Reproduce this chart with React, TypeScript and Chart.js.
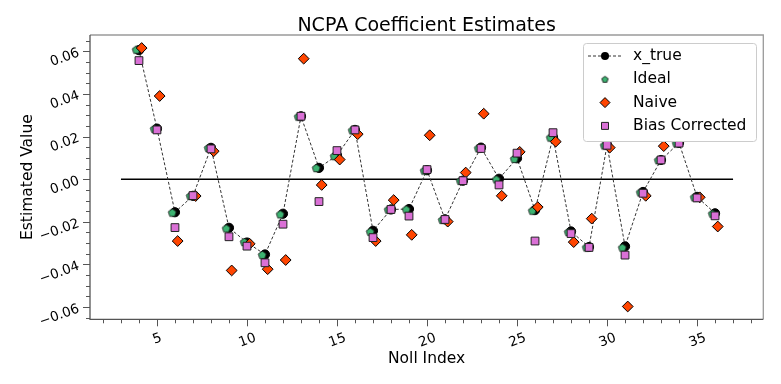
import React, { useEffect, useRef } from "react";
import { Chart, registerables } from "chart.js";

Chart.register(...registerables);

// ---------------- data ----------------
const NOLL = [4, 5, 6, 7, 8, 9, 10, 11, 12, 13, 14, 15, 16, 17, 18, 19, 20, 21, 22, 23, 24, 25, 26, 27, 28, 29, 30, 31, 32, 33, 34, 35, 36];

const X_TRUE = [0.0605, 0.0237, -0.0155, -0.0078, 0.0147, -0.0228, -0.0297, -0.0353, -0.0162, 0.0295, 0.0053, 0.0112, 0.0231, -0.0242, -0.0142, -0.014, 0.0042, -0.0188, -0.0007, 0.0148, 0.0002, 0.0098, -0.0145, 0.0197, -0.0245, -0.0318, 0.016, -0.0315, -0.006, 0.009, 0.017, -0.0083, -0.016];

const IDEAL = [0.0607, 0.0236, -0.0157, -0.0079, 0.0146, -0.0231, -0.0295, -0.0355, -0.0165, 0.0293, 0.0052, 0.0108, 0.0229, -0.0247, -0.0143, -0.0142, 0.004, -0.0191, -0.0008, 0.0145, -0.0001, 0.0095, -0.0148, 0.0195, -0.0248, -0.032, 0.0158, -0.0321, -0.0062, 0.0089, 0.0168, -0.0085, -0.0162];

const NAIVE = [0.0615, 0.039, -0.029, -0.0079, 0.0131, -0.0428, -0.0303, -0.0422, -0.0379, 0.0565, -0.0027, 0.0092, 0.0211, -0.029, -0.0098, -0.0261, 0.0206, -0.0199, 0.0031, 0.0307, -0.0078, 0.0128, -0.0131, 0.0176, -0.0295, -0.0185, 0.0148, -0.0597, -0.0078, 0.0155, 0.024, -0.0085, -0.0222];

const BIAS_CORRECTED = [0.0556, 0.0231, -0.0227, -0.0077, 0.0142, -0.027, -0.0314, -0.0392, -0.0211, 0.0295, -0.0105, 0.0134, 0.0231, -0.0274, -0.0142, -0.0173, 0.0045, -0.0189, -0.0007, 0.0144, -0.0027, 0.0122, -0.029, 0.0218, -0.0255, -0.032, 0.0159, -0.0356, -0.0066, 0.009, 0.0169, -0.0088, -0.0172];

const ZERO_LINE_X = [3, 37];
const ZERO_LINE_Y = [0, 0];

const X_TICKS = [5, 10, 15, 20, 25, 30, 35];
const X_TICK_LABELS = ["5", "10", "15", "20", "25", "30", "35"];
const Y_TICKS = [-0.06, -0.04, -0.02, 0, 0.02, 0.04, 0.06];
const Y_TICK_LABELS = ["\u22120.06", "\u22120.04", "\u22120.02", "0.00", "0.02", "0.04", "0.06"];

const TITLE = "NCPA Coefficient Estimates";
const X_LABEL = "Noll Index";
const Y_LABEL = "Estimated Value";
const LEGEND_LABELS = ["x_true", "Ideal", "Naive", "Bias Corrected"];

// ---------------- styling ----------------
const FONT = '"DejaVu Sans", "Liberation Sans", sans-serif';
const C_TRUE = "#000000";
const C_IDEAL = "#3CB371";
const C_NAIVE = "#FF4500";
const C_BIAS = "#DA70D6";
const IDEAL_DX = -0.15;
const NAIVE_DX = 0.15;
const TICK_FONT_PX = 13.5;

function makePentagon(r: number, fill: string, stroke: string, lw: number) {
  const size = Math.ceil(2 * r + 2 * lw + 2);
  const c = document.createElement("canvas");
  c.width = size;
  c.height = size;
  const g = c.getContext("2d")!;
  const cx = size / 2;
  const cy = size / 2 + 0.3;
  g.beginPath();
  for (let i = 0; i < 5; i++) {
    const a = -Math.PI / 2 + (i * 2 * Math.PI) / 5;
    const px = cx + r * Math.cos(a);
    const py = cy + r * Math.sin(a);
    if (i === 0) g.moveTo(px, py);
    else g.lineTo(px, py);
  }
  g.closePath();
  g.fillStyle = fill;
  g.fill();
  g.lineWidth = lw;
  g.strokeStyle = stroke;
  g.stroke();
  return c;
}

const mplAxes = {
  id: "mplAxes",
  afterDraw(chart: any) {
    const { ctx, chartArea: a, scales } = chart;
    const xs = scales.x;
    const ys = scales.y;
    ctx.save();

    // spines
    ctx.lineWidth = 1.3;
    ctx.strokeStyle = "#9a9a9a";
    ctx.beginPath();
    ctx.moveTo(a.left, a.top);
    ctx.lineTo(a.right, a.top);
    ctx.lineTo(a.right, a.bottom);
    ctx.stroke();
    ctx.strokeStyle = "#555555";
    ctx.beginPath();
    ctx.moveTo(a.left, a.top);
    ctx.lineTo(a.left, a.bottom);
    ctx.lineTo(a.right, a.bottom);
    ctx.stroke();

    // ticks
    ctx.lineWidth = 1;
    ctx.strokeStyle = "#555555";
    ctx.beginPath();
    for (let k = -13; k <= 13; k++) {
      const v = k * 0.005;
      if (v < ys.min || v > ys.max) continue;
      const py = Math.round(ys.getPixelForValue(v)) + 0.5;
      const len = k % 4 === 0 ? 7 : 4;
      ctx.moveTo(a.left, py);
      ctx.lineTo(a.left - len, py);
    }
    for (let n = Math.ceil(xs.min); n <= xs.max; n++) {
      const px = Math.round(xs.getPixelForValue(n)) + 0.5;
      const len = n % 5 === 0 ? 7 : 4;
      ctx.moveTo(px, a.bottom);
      ctx.lineTo(px, a.bottom + len);
    }
    ctx.stroke();

    // tick labels
    ctx.fillStyle = "#000";
    ctx.font = `${TICK_FONT_PX}px ${FONT}`;
    const rot = (-20 * Math.PI) / 180;
    const capHalf = TICK_FONT_PX * 0.364;
    Y_TICKS.forEach((v, i) => {
      const py = ys.getPixelForValue(v);
      ctx.save();
      ctx.translate(a.left - 11.5, py);
      ctx.rotate(rot);
      ctx.textAlign = "right";
      ctx.textBaseline = "alphabetic";
      ctx.fillText(Y_TICK_LABELS[i], 0, capHalf);
      ctx.restore();
    });
    X_TICKS.forEach((v, i) => {
      const px = xs.getPixelForValue(v);
      const w = ctx.measureText(X_TICK_LABELS[i]).width;
      ctx.save();
      ctx.translate(px, a.bottom + 17 + 0.171 * w);
      ctx.rotate(rot);
      ctx.textAlign = "center";
      ctx.textBaseline = "alphabetic";
      ctx.fillText(X_TICK_LABELS[i], 0, capHalf);
      ctx.restore();
    });

    // axis titles
    ctx.font = `15.5px ${FONT}`;
    ctx.textAlign = "center";
    ctx.textBaseline = "alphabetic";
    ctx.fillText(X_LABEL, (a.left + a.right) / 2, 362.5);
    ctx.save();
    ctx.translate(32, (a.top + a.bottom) / 2);
    ctx.rotate(-Math.PI / 2);
    ctx.fillText(Y_LABEL, 0, 0);
    ctx.restore();

    // title
    ctx.font = `19px ${FONT}`;
    ctx.fillText(TITLE, (a.left + a.right) / 2, 31);

    // legend
    const lx = 583, ly = 43, lw = 173, lh = 98;
    ctx.beginPath();
    if ((ctx as any).roundRect) (ctx as any).roundRect(lx + 0.5, ly + 0.5, lw, lh, 3);
    else ctx.rect(lx + 0.5, ly + 0.5, lw, lh);
    ctx.fillStyle = "#ffffff";
    ctx.fill();
    ctx.strokeStyle = "#cccccc";
    ctx.lineWidth = 1;
    ctx.stroke();

    const mx = 605;
    const rows = [56, 79.3, 102.6, 125.9];
    ctx.save();
    ctx.strokeStyle = "#333333";
    ctx.lineWidth = 1;
    ctx.setLineDash([3, 2]);
    ctx.beginPath();
    ctx.moveTo(588, rows[0]);
    ctx.lineTo(621, rows[0]);
    ctx.stroke();
    ctx.restore();
    ctx.beginPath();
    ctx.arc(mx, rows[0], 4, 0, Math.PI * 2);
    ctx.fillStyle = C_TRUE;
    ctx.fill();
    const pent = makePentagon(3.3, C_IDEAL, "#000", 0.8);
    ctx.drawImage(pent, mx - pent.width / 2, rows[1] - pent.height / 2);
    ctx.beginPath();
    ctx.moveTo(mx - 5, rows[2]);
    ctx.lineTo(mx, rows[2] - 5);
    ctx.lineTo(mx + 5, rows[2]);
    ctx.lineTo(mx, rows[2] + 5);
    ctx.closePath();
    ctx.fillStyle = C_NAIVE;
    ctx.fill();
    ctx.strokeStyle = "#000";
    ctx.lineWidth = 1;
    ctx.stroke();
    ctx.beginPath();
    ctx.rect(mx - 3.5, rows[3] - 3.5, 7, 7);
    ctx.fillStyle = C_BIAS;
    ctx.fill();
    ctx.strokeStyle = "#222";
    ctx.stroke();

    ctx.fillStyle = "#000";
    ctx.font = `15.5px ${FONT}`;
    ctx.textAlign = "left";
    ctx.textBaseline = "middle";
    LEGEND_LABELS.forEach((t, i) => ctx.fillText(t, 633, rows[i]));

    ctx.restore();
  },
};

export default function App() {
  const canvasRef = useRef<HTMLCanvasElement | null>(null);

  useEffect(() => {
    const canvas = canvasRef.current;
    if (!canvas) return;
    const pentagon = makePentagon(4.2, C_IDEAL, "#111", 0.8);

    const chart = new Chart(canvas, {
      type: "scatter",
      data: {
        datasets: [
          {
            label: LEGEND_LABELS[3],
            data: NOLL.map((n, i) => ({ x: n, y: BIAS_CORRECTED[i] })),
            pointStyle: "rect",
            pointRadius: 5.5,
            pointBackgroundColor: C_BIAS,
            pointBorderColor: "#222",
            pointBorderWidth: 1,
            showLine: false,
          },
          {
            label: LEGEND_LABELS[2],
            data: NOLL.map((n, i) => ({ x: n + NAIVE_DX, y: NAIVE[i] })),
            pointStyle: "rectRot",
            pointRadius: 5.4,
            pointBackgroundColor: C_NAIVE,
            pointBorderColor: "#000",
            pointBorderWidth: 1,
            showLine: false,
          },
          {
            label: LEGEND_LABELS[1],
            data: NOLL.map((n, i) => ({ x: n + IDEAL_DX, y: IDEAL[i] })),
            pointStyle: pentagon as any,
            pointRadius: 4,
            showLine: false,
          },
          {
            label: LEGEND_LABELS[0],
            data: NOLL.map((n, i) => ({ x: n, y: X_TRUE[i] })),
            pointStyle: "circle",
            pointRadius: 4.6,
            pointBackgroundColor: C_TRUE,
            pointBorderColor: C_TRUE,
            pointBorderWidth: 1,
            showLine: true,
            borderColor: "#333333",
            borderWidth: 1,
            borderDash: [3, 2],
          },
          {
            label: "zero",
            data: ZERO_LINE_X.map((x, i) => ({ x, y: ZERO_LINE_Y[i] })),
            pointRadius: 0,
            showLine: true,
            borderColor: "#000000",
            borderWidth: 1.5,
          },
        ],
      },
      options: {
        responsive: false,
        maintainAspectRatio: false,
        animation: false,
        layout: { padding: { left: 90, top: 35, right: 17.7, bottom: 64.7 } },
        scales: {
          x: { type: "linear", min: 1.28, max: 38.68, display: false },
          y: { type: "linear", min: -0.0657, max: 0.0676, display: false },
        },
        plugins: {
          legend: { display: false },
          tooltip: { enabled: false },
          title: { display: false },
        },
        elements: { line: { tension: 0 } },
      },
      plugins: [mplAxes],
    });
    return () => chart.destroy();
  }, []);

  return (
    <div style={{ position: "absolute", left: 0, top: 0, width: 781, height: 384, background: "#fff" }}>
      <canvas ref={canvasRef} width={781} height={384} style={{ display: "block", width: 781, height: 384 }} />
    </div>
  );
}
